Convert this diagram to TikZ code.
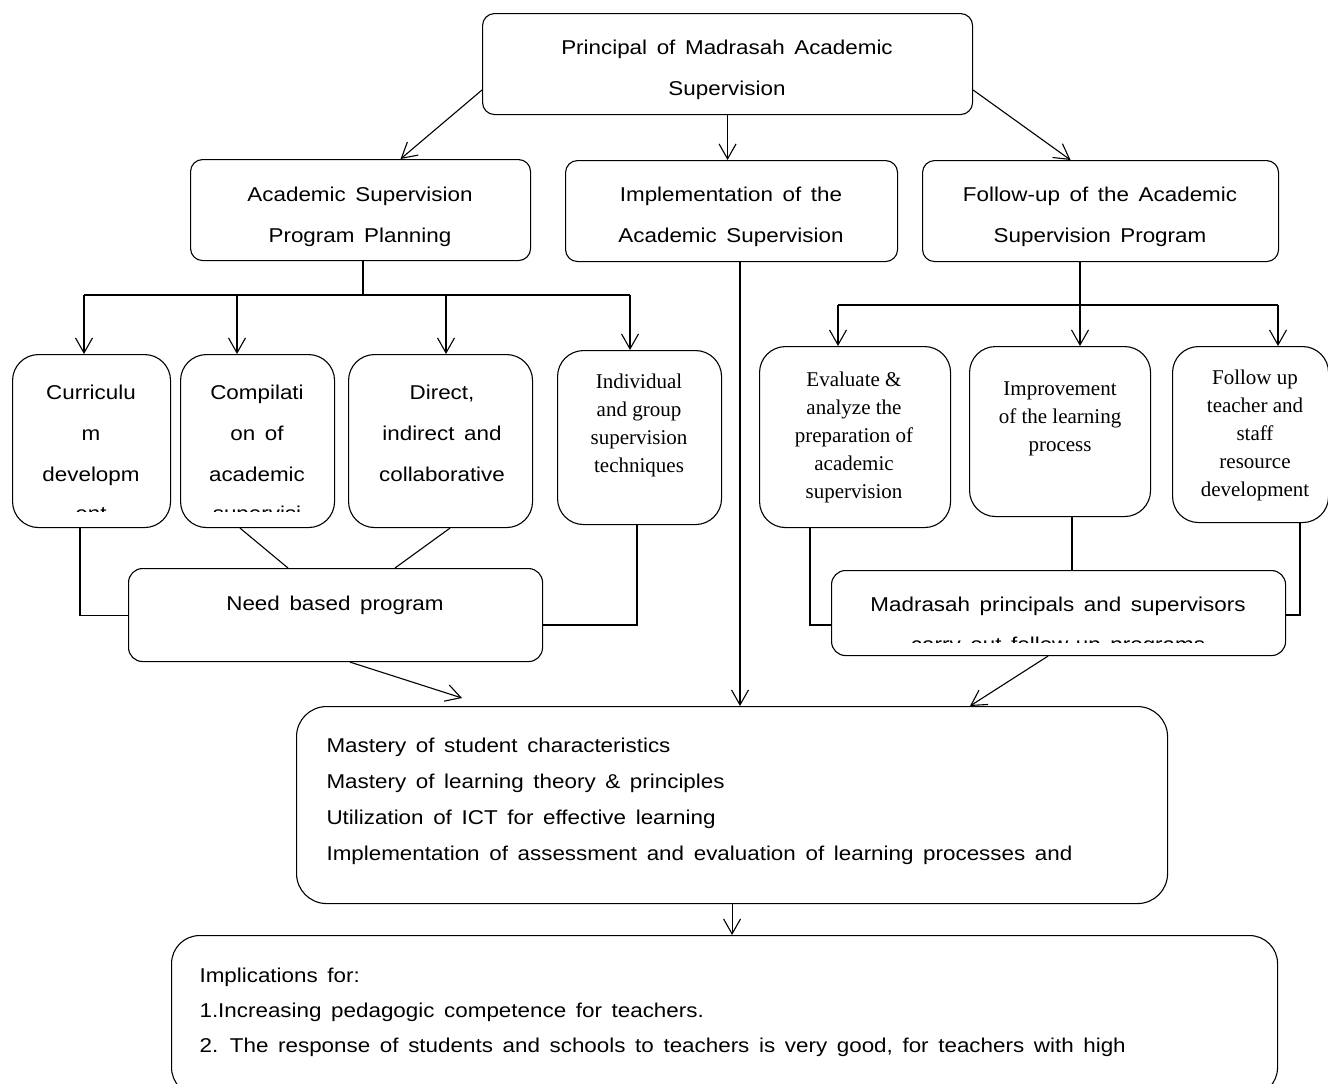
\documentclass[tikz,border=0pt]{standalone}
\usepackage{fontspec}
\setmainfont{Liberation Sans}[FakeStretch=1.12, WordSpace=1.55]
\newfontfamily\serifb{Liberation Serif}
\usetikzlibrary{arrows.meta}
\tikzset{
  box/.style={draw, anchor=north west, inner sep=0pt, rounded corners=#1},
  box/.default=12pt,
  txt/.style={anchor=north, inner sep=0pt, align=center, font=\fontsize{20}{41}\selectfont},
  stxt/.style={anchor=base, inner sep=0pt, font=\fontsize{20}{41}\selectfont},
  srf/.style={anchor=north, inner sep=0pt, align=center, font=\serifb\fontsize{21}{28}\selectfont},
  lst/.style={anchor=north west, inner sep=0pt, align=left, font=#1},
  arr/.style={-{Straight Barb[length=15pt,width=17pt]}},
}
\begin{document}
\begin{tikzpicture}[x=1pt,y=-1pt,line width=1.1pt]
\clip (0,0) rectangle (1328,1084);
\fill[white] (0,0) rectangle (1328,1084);

% boxes
\node[box, minimum width=490pt, minimum height=101pt] (top) at (482,13) {};
\node[box, minimum width=340pt, minimum height=101pt] (A) at (190,159) {};
\node[box, minimum width=332pt, minimum height=101pt] (B) at (565,160) {};
\node[box, minimum width=356pt, minimum height=101pt] (C) at (922,160) {};

\node[box=26pt, minimum width=158pt, minimum height=173pt] (D1) at (12,354) {};
\node[box=26pt, minimum width=154pt, minimum height=173pt] (D2) at (180,354) {};
\node[box=26pt, minimum width=184pt, minimum height=173pt] (D3) at (348,354) {};
\node[box=26pt, minimum width=164pt, minimum height=174pt] (D4) at (557,350) {};

\node[box=26pt, minimum width=191pt, minimum height=181pt] (E1) at (759,346) {};
\node[box=26pt, minimum width=181pt, minimum height=170pt] (E2) at (969,346) {};
\node[box=26pt, minimum width=156pt, minimum height=176pt] (E3) at (1172,346) {};

\node[box=14pt, minimum width=414pt, minimum height=93pt] (Need) at (128,568) {};
\node[box=14pt, minimum width=454pt, minimum height=85pt] (Mad) at (831,570) {};

\node[box=30pt, minimum width=871pt, minimum height=197pt] (Mast) at (296,706) {};
\node[box=28pt, minimum width=1106pt, minimum height=160pt] (Impl) at (171,935) {};

% texts
\node[txt] (tTop) at (727,39) {Principal of Madrasah Academic\\Supervision};
\node[txt] (tA) at (360,186) {Academic Supervision\\Program Planning};
\node[txt] (tB) at (731,186) {Implementation of the\\Academic Supervision};
\node[txt] (tC) at (1100,186) {Follow-up of the Academic\\Supervision Program};

\node[txt] (tD1) at (91,384) {Curriculu\\m\\developm};
\node[txt] (tD2) at (257,384) {Compilati\\on of\\academic};
\node[txt] (tD3) at (442,384) {Direct,\\indirect and\\collaborative};
\node[srf] (tD4) at (639,373) {Individual\\and group\\supervision\\techniques};

\begin{scope}
  \clip (12,480) rectangle (334,511);
  \node[stxt] (tD1b) at (91,520) {ent};
  \node[stxt] (tD2b) at (257,520) {supervisi};
\end{scope}

\node[srf] (tE1) at (854,371) {Evaluate \&\\analyze the\\preparation of\\academic\\supervision};
\node[srf] (tE2) at (1060,381) {Improvement\\of the learning\\process};
\node[srf] (tE3) at (1255,369) {Follow up\\teacher and\\staff\\resource\\development};

\node[stxt] (tNeed) at (335,610) {Need based program};
\node[stxt] (tMad) at (1058,611) {Madrasah principals and supervisors};
\begin{scope}
  \clip (831,620) rectangle (1285,642);
  \node[stxt] (tMadb) at (1058,651) {carry out follow-up programs};
\end{scope}

\node[lst={\fontsize{20}{36}\selectfont}] (tMast) at (326,737)
  {Mastery of student characteristics\\
   Mastery of learning theory \& principles\\
   Utilization of ICT for effective learning\\
   Implementation of assessment and evaluation of learning processes and};

\node[lst={\fontsize{20}{35}\selectfont}] (tImpl) at (199,967)
  {Implications for:\\
   1.Increasing pedagogic competence for teachers.\\
   2. The response of students and schools to teachers is very good, for teachers with high};

% connectors top level
\draw[arr] ([shift={(0,77)}]top.north west) -- ([shift={(40,0)}]A.north);
\draw[arr] (top.south) -- (top.south |- B.north);
\draw[arr] ([shift={(0,77)}]top.north east) -- ([shift={(-30,0)}]C.north);

% planning bus
\coordinate (busA) at (363,295);
\draw (A.south -| busA) -- (busA);
\draw (busA -| 84,0) -- (busA -| 630,0);
\draw[arr] (busA -| 84,0) -- (D1.north -| 84,0);
\draw[arr] (busA -| 237,0) -- (D2.north -| 237,0);
\draw[arr] (busA -| 446,0) -- (D3.north -| 446,0);
\draw[arr] (busA -| 630,0) -- (D4.north -| 630,0);

% children to need based
\draw (D1.south -| 80,0) |- (Need.west);
\draw (D2.south -| 240,0) -- (Need.north -| 288,0);
\draw (D3.south -| 450,0) -- (Need.north -| 395,0);
\draw (D4.south -| 637,0) |- (Need.east |- 0,625);

% implementation
\draw[arr] (B.south -| 740,0) -- (Mast.north -| 740,0);

% follow-up bus
\coordinate (busC) at (1080,305);
\draw[arr] (C.south -| busC) -- (E2.north -| busC);
\draw (busC -| 838,0) -- (busC -| 1278,0);
\draw[arr] (busC -| 838,0) -- (E1.north -| 838,0);
\draw[arr] (busC -| 1278,0) -- (E3.north -| 1278,0);

% children to madrasah
\draw (E1.south -| 810,0) |- (Mad.west |- 0,625);
\draw (E2.south -| 1072,0) -- (Mad.north -| 1072,0);
\draw (E3.south -| 1300,0) |- (Mad.east |- 0,615);

% to mastery
\draw[arr] ([shift={(222,0)}]Need.south west) -- ([shift={(166,-8)}]Mast.north west);
\draw[arr] (Mad.south -| 1048,0) -- ([shift={(674,0)}]Mast.north west);
\draw[arr] (Mast.south) -- (Impl.north -| Mast.south);
\end{tikzpicture}
\end{document}
